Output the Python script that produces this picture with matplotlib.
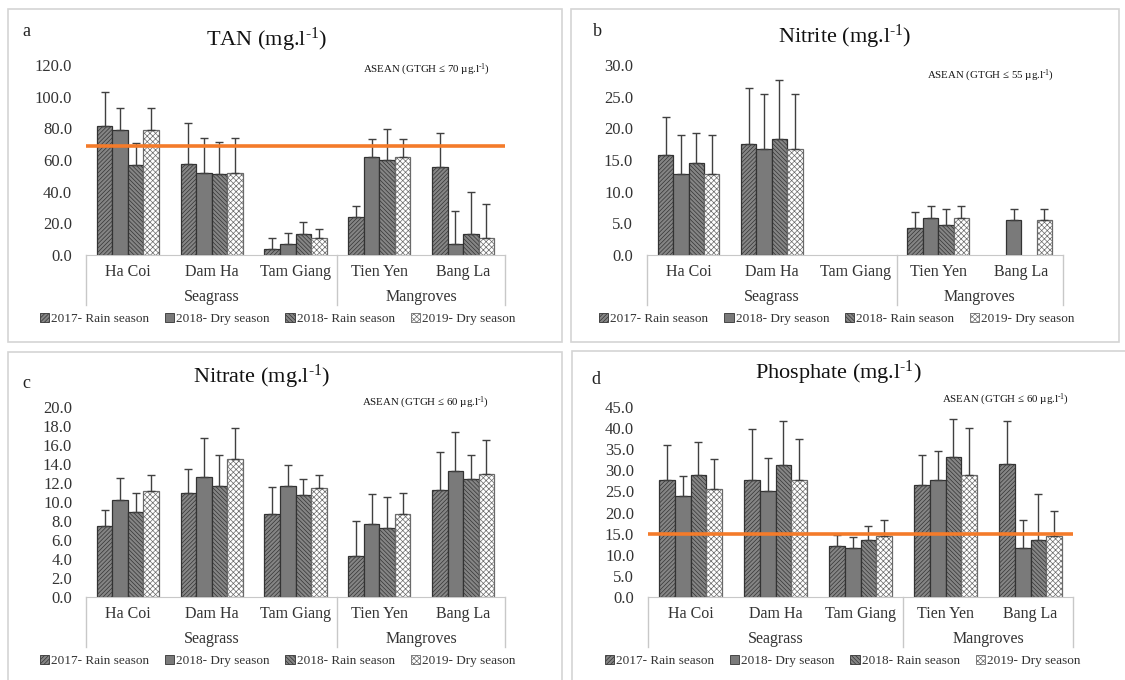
import matplotlib
matplotlib.use("Agg")
import matplotlib.pyplot as plt
from matplotlib.patches import Rectangle, Patch
import numpy as np

plt.rcParams['font.family'] = ['Liberation Serif', 'DejaVu Serif']
plt.rcParams['mathtext.fontset'] = 'custom'
plt.rcParams['mathtext.rm'] = 'Liberation Serif'
plt.rcParams['mathtext.it'] = 'Liberation Serif:italic'
plt.rcParams['hatch.linewidth'] = 0.5

# sites and groups
sites = ['Ha Coi', 'Dam Ha', 'Tam Giang', 'Tien Yen', 'Bang La']
groups = ['Seagrass', 'Mangroves']
seasons = ['2017- Rain season', '2018- Dry season', '2018- Rain season', '2019- Dry season']

# TAN (mean, top of error bar) per season
tan_2017r = [81.5, 57.3, 3.8, 24.2, 55.6]
tan_2018d = [79.0, 52.0, 6.7, 61.9, 6.7]
tan_2018r = [56.8, 51.0, 13.0, 60.0, 13.0]
tan_2019d = [79.0, 52.0, 10.5, 61.9, 10.5]
tan_2017r_top = [102.7, 83.2, 10.5, 31.0, 77.3]
tan_2018d_top = [92.6, 73.7, 13.7, 73.3, 27.8]
tan_2018r_top = [70.5, 71.6, 21.0, 79.4, 40.0]
tan_2019d_top = [92.6, 73.7, 16.2, 73.3, 32.0]

# Nitrite (nan = no data)
nan = np.nan
no2_2017r = [15.8, 17.5, nan, 4.2, nan]
no2_2018d = [12.8, 16.8, nan, 5.9, 5.6]
no2_2018r = [14.5, 18.3, nan, 4.7, nan]
no2_2019d = [12.8, 16.8, nan, 5.9, 5.6]
no2_2017r_top = [21.8, 26.4, nan, 6.8, nan]
no2_2018d_top = [18.9, 25.4, nan, 7.7, 7.2]
no2_2018r_top = [19.2, 27.6, nan, 7.3, nan]
no2_2019d_top = [18.9, 25.4, nan, 7.7, 7.2]

# Nitrate
no3_2017r = [7.5, 10.9, 8.7, 4.3, 11.3]
no3_2018d = [10.2, 12.6, 11.7, 7.7, 13.3]
no3_2018r = [9.0, 11.7, 10.7, 7.3, 12.4]
no3_2019d = [11.2, 14.5, 11.5, 8.7, 12.9]
no3_2017r_top = [9.2, 13.5, 11.6, 8.0, 15.3]
no3_2018d_top = [12.5, 16.7, 13.9, 10.8, 17.4]
no3_2018r_top = [10.9, 14.9, 12.4, 10.5, 15.0]
no3_2019d_top = [12.8, 17.8, 12.8, 11.0, 16.5]

# Phosphate
po4_2017r = [27.8, 27.8, 12.1, 26.6, 31.6]
po4_2018d = [23.9, 25.0, 11.7, 27.8, 11.7]
po4_2018r = [28.9, 31.2, 13.4, 33.2, 13.4]
po4_2019d = [25.6, 27.8, 14.4, 28.9, 14.4]
po4_2017r_top = [36.1, 39.8, 14.6, 33.7, 41.8]
po4_2018d_top = [28.7, 32.9, 14.1, 34.5, 18.3]
po4_2018r_top = [36.8, 41.8, 16.9, 42.1, 24.5]
po4_2019d_top = [32.8, 37.5, 18.3, 40.0, 20.4]

W, H = 1125, 680
fig = plt.figure(figsize=(W / 100, H / 100), dpi=100)

styles = [
    dict(facecolor='#858585', edgecolor='#333333', hatch='////////'),
    dict(facecolor='#7a7a7a', edgecolor='#333333', hatch=None),
    dict(facecolor='#858585', edgecolor='#333333', hatch='\\\\\\\\\\\\\\\\'),
    dict(facecolor='white', edgecolor='#6a6a6a', hatch='xxxxxx'),
]
txt_col = '#333333'
grid_col = '#c8c8c8'
SUP = r'$^{\mathregular{\text{-}1}}$'


def px_axes(l, t, r, b):
    return fig.add_axes([l / W, 1 - b / H, (r - l) / W, (b - t) / H])


def frame(l, t, r, b):
    fig.add_artist(Rectangle((l / W, 1 - b / H), (r - l) / W, (b - t) / H,
                             transform=fig.transFigure, fill=False,
                             edgecolor='#d4d4d4', linewidth=1.2))


def panel(box, ax_box, letter, letter_xy, title, title_xy, note, note_xy,
          means, tops, ymax, ystep, limit=None):
    frame(*box)
    ax = px_axes(*ax_box)
    x = np.arange(len(sites))
    bw = 0.185
    for i, (m, tp) in enumerate(zip(means, tops)):
        m = np.array(m, dtype=float)
        tp = np.array(tp, dtype=float)
        pos = x + (i - 1.5) * bw
        ok = ~np.isnan(m)
        ax.bar(pos[ok], m[ok], bw, linewidth=0.9, zorder=2, **styles[i])
        ax.errorbar(pos[ok], m[ok], yerr=[np.zeros(ok.sum()), tp[ok] - m[ok]],
                    fmt='none', ecolor='#404040', elinewidth=1.0, capsize=3,
                    capthick=1.0, zorder=3)
    if limit is not None:
        ax.axhline(limit, color='#f47b2a', linewidth=2.6, zorder=4)
    ax.set_xlim(-0.5, len(sites) - 0.5)
    ax.set_ylim(0, ymax)
    ax.set_yticks(np.arange(0, ymax + 0.01, ystep))
    ax.set_yticklabels(['%.1f' % v for v in np.arange(0, ymax + 0.01, ystep)])
    ax.tick_params(axis='y', length=0, labelsize=12, labelcolor=txt_col, pad=10)
    ax.set_xticks([])
    for s in ['top', 'right', 'left']:
        ax.spines[s].set_visible(False)
    ax.spines['bottom'].set_color(grid_col)
    ax.patch.set_alpha(0)

    tr = ax.get_xaxis_transform()
    hgt = ax_box[3] - ax_box[1]
    for xi, name in zip(x, sites):
        ax.text(xi, -17 / hgt, name, transform=tr, ha='center', va='center',
                fontsize=11.5, color=txt_col)
    ax.text(1, -42 / hgt, groups[0], transform=tr, ha='center', va='center',
            fontsize=11.5, color=txt_col)
    ax.text(3.5, -42 / hgt, groups[1], transform=tr, ha='center', va='center',
            fontsize=11.5, color=txt_col)
    for xs in [-0.5, 2.5, 4.5]:
        ax.plot([xs, xs], [0, -50 / hgt], transform=tr, color=grid_col,
                linewidth=1.0, clip_on=False)

    handles = [Patch(linewidth=0.6, **st) for st in styles]
    wid = ax_box[2] - ax_box[0]
    ax.legend(handles, seasons, loc='center', ncol=4, frameon=False,
              bbox_to_anchor=(0.5 - 18 / wid, -64 / hgt), fontsize=9.5,
              handlelength=0.7, handleheight=0.7, handletextpad=0.15,
              columnspacing=1.2, labelcolor=txt_col)

    fig.text(letter_xy[0] / W, 1 - letter_xy[1] / H, letter, fontsize=13,
             ha='left', va='center', color='#222222')
    fig.text(title_xy[0] / W, 1 - title_xy[1] / H, title, fontsize=16,
             ha='center', va='center', color='#111111')
    fig.text(note_xy[0] / W, 1 - note_xy[1] / H, note, fontsize=7.8,
             ha='right', va='center', color='#111111')
    return ax


panel((8, 9, 562, 342), (86, 65, 505, 255), 'a', (22, 32),
      'TAN (mg.l' + SUP + ')', (267, 40), 'ASEAN (GTGH ≤ 70 µg.l' + SUP + ')', (490, 70),
      [tan_2017r, tan_2018d, tan_2018r, tan_2019d],
      [tan_2017r_top, tan_2018d_top, tan_2018r_top, tan_2019d_top],
      120, 20, limit=69)

panel((571, 9, 1119, 342), (647, 65, 1063, 255), 'b', (593, 32),
      'Nitrite (mg.l' + SUP + ')', (845, 37), 'ASEAN (GTGH ≤ 55 µg.l' + SUP + ')', (1054, 76),
      [no2_2017r, no2_2018d, no2_2018r, no2_2019d],
      [no2_2017r_top, no2_2018d_top, no2_2018r_top, no2_2019d_top],
      30, 5)

panel((8, 352, 562, 690), (86, 407, 505, 597), 'c', (22, 383),
      'Nitrate (mg.l' + SUP + ')', (262, 377), 'ASEAN (GTGH ≤ 60 µg.l' + SUP + ')', (489, 403),
      [no3_2017r, no3_2018d, no3_2018r, no3_2019d],
      [no3_2017r_top, no3_2018d_top, no3_2018r_top, no3_2019d_top],
      20, 2)

panel((572, 351, 1135, 690), (648, 407, 1073, 597), 'd', (591, 380),
      'Phosphate (mg.l' + SUP + ')', (838, 373), 'ASEAN (GTGH ≤ 60 µg.l' + SUP + ')', (1069, 400),
      [po4_2017r, po4_2018d, po4_2018r, po4_2019d],
      [po4_2017r_top, po4_2018d_top, po4_2018r_top, po4_2019d_top],
      45, 5, limit=15)

fig.savefig('out.png', dpi=100)
